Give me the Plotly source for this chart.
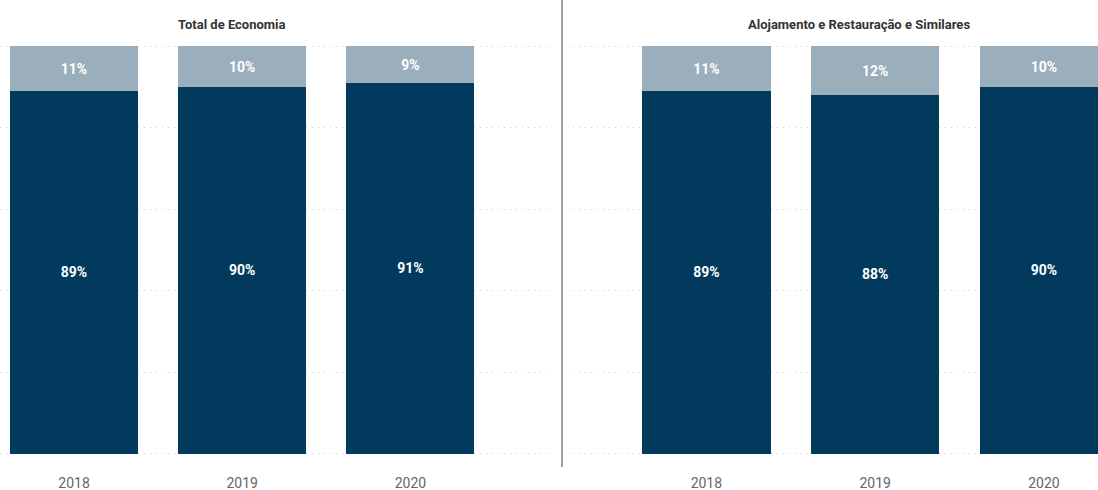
import plotly.graph_objects as go

years = ["2018", "2019", "2020"]
total_main = [89, 90, 91]
total_rest = [11, 10, 9]
aloj_main = [89, 88, 90]
aloj_rest = [11, 12, 10]
titles = ["Total de Economia", "Alojamento e Restauração e Similares"]

DARK = "#023A5D"
LIGHT = "#9AAEBC"
FONT = "Roboto"

fig = go.Figure()
pos = [0, 1, 2]

def add_panel(main, rest, xa, ya):
    for vals, col in ((main, DARK), (rest, LIGHT)):
        fig.add_trace(go.Bar(x=pos, y=vals, marker=dict(color=col, line=dict(width=0)),
                             text=[f"<b>{v}%</b>" for v in vals], textposition="inside",
                             insidetextanchor="middle", constraintext="none",
                             textfont=dict(color="white", size=14, family=FONT),
                             xaxis=xa, yaxis=ya, showlegend=False, hoverinfo="skip"))

add_panel(total_main, total_rest, "x", "y")
add_panel(aloj_main, aloj_rest, "x2", "y2")

W, H = 1098, 490
ydom = [35 / H, 445 / H]
xcommon = dict(tickmode="array", tickvals=pos, ticktext=years, showgrid=False,
               zeroline=False, showline=False, ticks="",
               tickfont=dict(size=14, color="#666666", family=FONT),
               ticklabelstandoff=18, fixedrange=True)
ycommon = dict(range=[-0.3, 100.3], tickvals=[0, 20, 40, 60, 80, 100], showticklabels=False,
               showgrid=True, gridcolor="#CCCCCC", griddash="1px,5px", gridwidth=1,
               zeroline=False, showline=False, ticks="", domain=ydom, fixedrange=True)

fig.update_layout(
    width=W, height=H, margin=dict(l=0, r=0, t=0, b=0),
    paper_bgcolor="white", plot_bgcolor="white",
    barmode="stack", bargap=0.24,
    xaxis=dict(domain=[0, 550 / W], range=[-0.44, 2.83], anchor="y", **xcommon),
    yaxis=dict(anchor="x", **ycommon),
    xaxis2=dict(domain=[573 / W, 1], range=[-0.79, 2.32], anchor="y2", **xcommon),
    yaxis2=dict(anchor="x2", **ycommon),
    annotations=[
        dict(text=f"<b>{titles[0]}</b>", x=232 / W, y=(H - 25) / H, xref="paper", yref="paper",
             xanchor="center", yanchor="middle",
             showarrow=False, font=dict(size=13, color="#333333", family=FONT)),
        dict(text=f"<b>{titles[1]}</b>", x=859 / W, y=(H - 25) / H, xref="paper", yref="paper",
             xanchor="center", yanchor="middle",
             showarrow=False, font=dict(size=13, color="#333333", family=FONT)),
    ],
    shapes=[dict(type="line", xref="paper", yref="paper", x0=562 / W, x1=562 / W,
                 y0=(H - 467) / H, y1=1, line=dict(color="#A0A0A0", width=2))],
)

fig.write_html("out.html", config={"displayModeBar": False},
               post_script="document.body.style.margin='0';document.body.style.overflow='hidden';")
